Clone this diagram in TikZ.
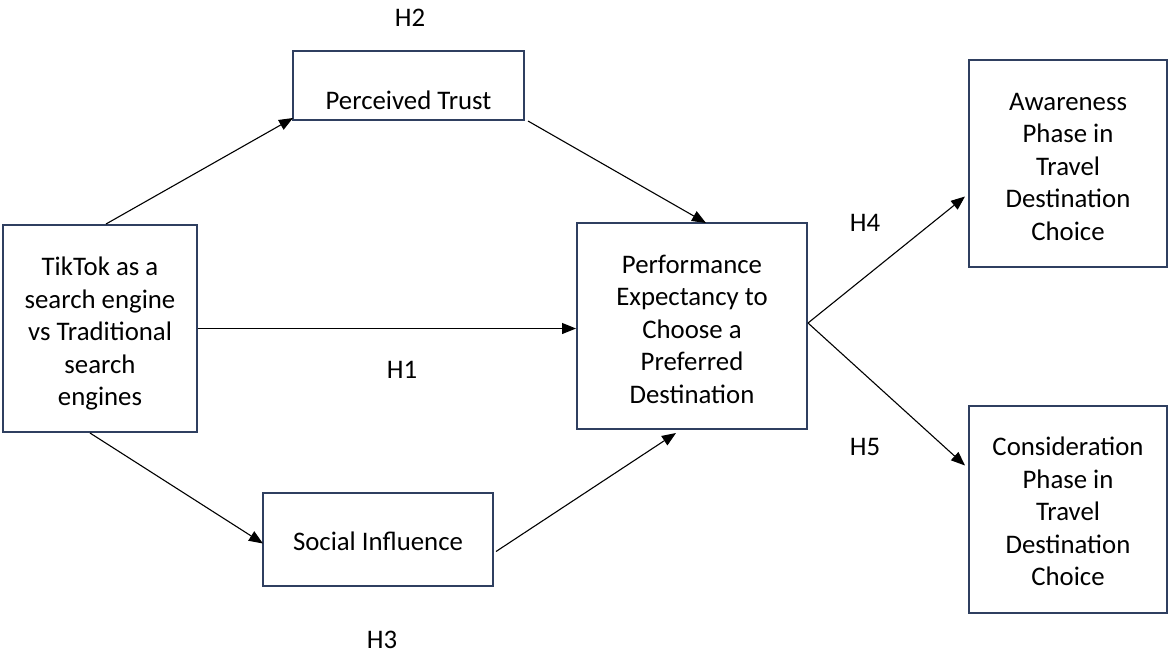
\documentclass[tikz,border=0pt]{standalone}
\usepackage{fontspec}
\setmainfont{Carlito}
\usetikzlibrary{arrows.meta,calc}
\definecolor{boxline}{HTML}{2F3F60}
\begin{document}
\begin{tikzpicture}[x=1pt,y=-1pt,
  construct/.style={draw=boxline,line width=2pt,fill=white,inner sep=0pt},
  boxtext/.style={align=center,inner sep=0pt,font=\fontsize{26.8}{32.5}\selectfont},
  hyp/.style={font=\fontsize{26.8}{32.5}\selectfont,inner sep=0pt},
  link/.style={line width=1.1pt,-{Triangle[length=14pt,width=11pt]}}]
\useasboundingbox (0,0) rectangle (1169,659);

% constructs (text placed as a centred label, nudged down as in a text frame)
\node[construct,minimum width=194pt,minimum height=207pt,
  label={[boxtext,yshift=-5pt]center:TikTok as a\\search engine\\vs Traditional\\search\\engines}]
  (tt) at (100,328.5) {};
\node[construct,minimum width=231pt,minimum height=69pt,
  label={[boxtext,yshift=-15pt]center:Perceived Trust}]
  (pt) at (408.5,85.5) {};
\node[construct,minimum width=230pt,minimum height=93pt,
  label={[boxtext,yshift=-2pt]center:Social Influence}]
  (si) at (378,539.5) {};
\node[construct,minimum width=230pt,minimum height=206pt,
  label={[boxtext,yshift=-3pt]center:Performance\\Expectancy to\\Choose a\\Preferred\\Destination}]
  (pe) at (692,326) {};
\node[construct,minimum width=198pt,minimum height=207pt,
  label={[boxtext,yshift=-3pt]center:Awareness\\Phase in\\Travel\\Destination\\Choice}]
  (aw) at (1068,163.5) {};
\node[construct,minimum width=198pt,minimum height=207pt,
  label={[boxtext,yshift=-2pt]center:Consideration\\Phase in\\Travel\\Destination\\Choice}]
  (co) at (1068,509.5) {};

% hypothesis labels
\node[hyp] (h1) at (402,370) {H1};
\node[hyp] (h2) at (410,18) {H2};
\node[hyp] (h3) at (382,640) {H3};
\node[hyp] (h4) at (865,223) {H4};
\node[hyp] (h5) at (865,447) {H5};

% paths
\coordinate (split) at ($(pe.east)+(0,-3)$);
\draw[link] ($(tt.north west)+(104,0)$) -- ($(pt.south west)+(1,-3)$);
\draw[link] ($(pt.south east)+(3,0)$) -- ($(pe.north west)+(130,1)$);
\draw[link] (tt.east) -- (tt.east -| pe.west);
\draw[link] ($(tt.south west)+(88,0)$) -- ($(si.west)+(1,4)$);
\draw[link] ($(si.east)+(2,12)$) -- ($(pe.south west)+(100,3)$);
\draw[link] (split) -- ($(aw.west)+(-3,33)$);
\draw[link] (split) -- ($(co.west)+(-3,-44)$);
\end{tikzpicture}
\end{document}
